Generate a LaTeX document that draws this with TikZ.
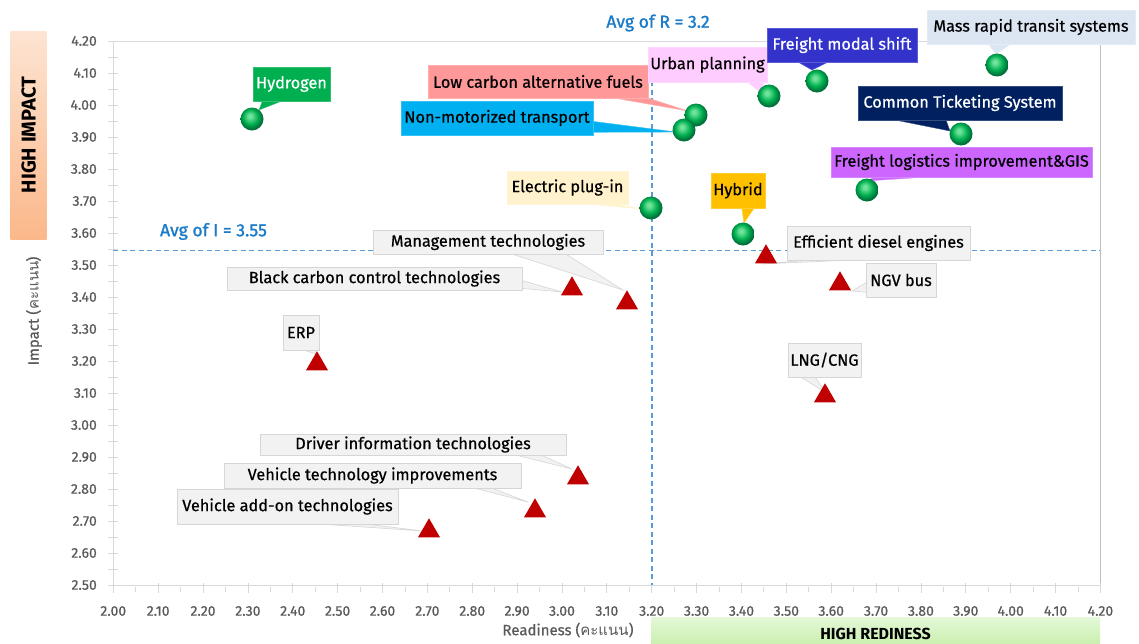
\documentclass[tikz,border=0pt]{standalone}
\usepackage{fontspec}
\setmainfont{Fira Sans}
\newfontfamily\lblfam{Fira Sans}[FakeBold=0.6]
\newfontfamily\avgfam{Fira Sans}[FakeBold=1.3]
\newfontfamily\thaifont[Script=Thai]{Loma}
\usetikzlibrary{shapes.geometric,calc}
\definecolor{gHi}{HTML}{6FE39A}
\definecolor{gMid}{HTML}{00B050}
\definecolor{gDark}{HTML}{00703A}
\definecolor{triRed}{HTML}{C00000}
\definecolor{boxGray}{HTML}{F2F2F2}
\definecolor{boxLine}{HTML}{D6D6D6}
\definecolor{tickTxt}{HTML}{595959}
\definecolor{axisC}{HTML}{D9D9D9}
\definecolor{frameR}{HTML}{BFBFBF}
\definecolor{avgBlue}{HTML}{1A7BC9}
\definecolor{dashBlue}{HTML}{5B9BD5}
\definecolor{hydG}{HTML}{00B050}
\definecolor{lcfP}{HTML}{FF9999}
\definecolor{nmtC}{HTML}{00B0F0}
\definecolor{urbP}{HTML}{FFCCFF}
\definecolor{fmsB}{HTML}{3333CC}
\definecolor{mrtL}{HTML}{DCE6F2}
\definecolor{ctsN}{HTML}{002060}
\definecolor{fliV}{HTML}{CC66FF}
\definecolor{epiC}{HTML}{FFF2CC}
\definecolor{hybO}{HTML}{FFC000}
\definecolor{impTop}{HTML}{FDE4D2}
\definecolor{impBot}{HTML}{FBB88A}
\definecolor{redTop}{HTML}{E4F8D8}
\definecolor{redBot}{HTML}{CBF0B2}
\pgfdeclareradialshading{gball}{\pgfpoint{-5bp}{7bp}}{color(0bp)=(gHi); color(4bp)=(gHi); color(16bp)=(gMid); color(25bp)=(gDark); color(50bp)=(gDark)}
\pgfdeclarelayer{bg}
\pgfdeclarelayer{tl}
\pgfsetlayers{bg,tl,main}
\newcommand{\lblfont}{\lblfam\fontsize{16.3}{18}\selectfont}
\newcommand{\labelbox}[7]{\node[#1, minimum width={(#5)-(#3)}, minimum height={(#6)-(#4)}] (#2) at ({((#3)+(#5))/2},{((#4)+(#6))/2}) {#7};}
\newcommand{\tailto}[5]{\filldraw[#1] ($(#2)+(#3)$) -- #5 -- ($(#2)+(#4)$) -- cycle;}
\tikzset{
  lbl/.style={font=\lblfont, text=black, inner sep=0pt, line width=0.6pt},
  gbox/.style={lbl, fill=boxGray, draw=boxLine},
  cbox/.style={lbl, fill=#1, draw=#1!80!white},
  wbox/.style={lbl, fill=#1, draw=#1!80!white, text=white},
  gtail/.style={fill=boxGray, draw=boxLine, line width=0.6pt},
  ctail/.style={fill=#1, draw=#1!80!white, line width=0.4pt},
  ballmark/.style={circle, minimum size=23pt, inner sep=0pt, shading=gball},
  trimark/.style={regular polygon, regular polygon sides=3, minimum size=25.5pt, inner sep=0pt, fill=triRed},
  ticklbl/.style={font=\lblfam\fontsize{14}{16}\selectfont, text=tickTxt, inner sep=0pt},
  axtitle/.style={font=\lblfam\fontsize{15}{17}\selectfont, text=tickTxt, inner sep=0pt},
  avglbl/.style={font=\avgfam\fontsize{17.5}{19}\selectfont, text=avgBlue, inner sep=0pt},
  hilbl/.style={font=\fontsize{16}{18}\selectfont\bfseries, text=black, inner sep=0pt},
  avgline/.style={dashBlue, line width=1.2pt, dash pattern=on 5pt off 3.5pt}
}
\begin{document}
\begin{tikzpicture}[x=1pt,y=-1pt]
\useasboundingbox (0,0) rectangle (1139,643);
\begin{pgfonlayer}{bg}
\fill[white] (0,0) rectangle (1139,643);
% quadrant banners
\node[minimum width=36pt, minimum height=208pt, inner sep=0pt, top color=impTop, bottom color=impBot] (hiImp) at (28.7,135) {};
\node[hilbl, font=\fontsize{20}{22}\selectfont\bfseries, rotate=90] (hiImpT) at (hiImp.center) {HIGH IMPACT};
\node[minimum width=449pt, minimum height=26pt, inner sep=0pt, top color=redTop, bottom color=redBot] (hiRed) at (875.5,630) {};
\node[hilbl] (hiRedT) at (875.5,634) {HIGH REDINESS};
% frame and axes
\draw[axisC, line width=0.6pt] (113.3,41) -- (1100.4,41);
\draw[frameR, line width=0.8pt] (1100.4,41) -- (1100.4,585);
\draw[axisC, line width=0.8pt] (113.3,41) -- (113.3,585) -- (1100.4,585);
\foreach \k in {0,...,34} \draw[axisC, line width=0.8pt] (108,{585-16*\k}) -- (118,{585-16*\k});
\foreach \k in {0,...,22} \draw[axisC, line width=0.8pt] ({113.3+44.87*\k},583) -- ({113.3+44.87*\k},593);
\foreach \k in {0,...,21} \draw[axisC, line width=0.8pt] ({135.7+44.87*\k},587) -- ({135.7+44.87*\k},592);
\foreach \lab [count=\i from 0] in {2.50,2.60,2.70,2.80,2.90,3.00,3.10,3.20,3.30,3.40,3.50,3.60,3.70,3.80,3.90,4.00,4.10,4.20}
  \node[ticklbl, anchor=east] at (97,{585-32*\i}) {\lab};
\foreach \lab [count=\i from 0] in {2.00,2.10,2.20,2.30,2.40,2.50,2.60,2.70,2.80,2.90,3.00,3.10,3.20,3.30,3.40,3.50,3.60,3.70,3.80,3.90,4.00,4.10,4.20}
  \node[ticklbl] at ({113.3+44.87*\i},611) {\lab};
\node[axtitle] (xt) at (568,630) {Readiness ({\thaifont คะแนน})};
\node[axtitle, rotate=90] (yt) at (34,311) {Impact ({\thaifont คะแนน})};
% averages
\draw[avgline] (652,47) -- (652,585);
\draw[avgline] (113.3,250.5) -- (1100.4,250.5);
\node[avglbl] (avgR) at (658,23) {Avg of R = 3.2};
\node[avglbl] (avgI) at (213.5,231.5) {Avg of I = 3.55};
\end{pgfonlayer}
% data points
\coordinate (hyd) at (252,119);
\coordinate (lcf) at (696,115);
\coordinate (nmt) at (684,130);
\coordinate (urb) at (769,96);
\coordinate (fms) at (817,81);
\coordinate (mrt) at (997,65);
\coordinate (cts) at (961,134);
\coordinate (fli) at (867,190);
\coordinate (epi) at (651,208);
\coordinate (hyb) at (743,234);
\coordinate (ede) at (766,257);
\coordinate (ngv) at (840,284);
\coordinate (lng) at (825,396);
\coordinate (mgt) at (627,303);
\coordinate (bcc) at (572,289);
\coordinate (erp) at (317,364);
\coordinate (dit) at (578,478);
\coordinate (vti) at (535,511);
\coordinate (vao) at (429,531);
% label boxes
\labelbox{wbox=hydG}{hydB}{253}{67}{330}{101}{Hydrogen}
\labelbox{cbox=lcfP}{lcfB}{428}{65}{648}{98}{Low carbon alternative fuels}
\labelbox{cbox=nmtC}{nmtB}{401}{101}{593}{135}{Non-motorized transport}
\labelbox{cbox=urbP}{urbB}{648}{47}{767}{82}{Urban planning}
\labelbox{wbox=fmsB}{fmsBx}{767}{28}{917}{62}{Freight modal shift}
\labelbox{cbox=mrtL}{mrtB}{927}{10}{1135}{44}{Mass rapid transit systems}
\labelbox{wbox=ctsN}{ctsB}{858}{86}{1062}{120}{Common Ticketing System}
\labelbox{cbox=fliV}{fliB}{831}{147}{1092}{177}{Freight logistics improvement\&GIS}
\labelbox{cbox=epiC}{epiB}{507}{171}{628}{204}{Electric plug-in}
\labelbox{cbox=hybO}{hybB}{711}{173}{765}{208}{Hybrid}
\labelbox{gbox}{edeB}{787}{226}{970}{260}{Efficient diesel engines}
\labelbox{gbox}{ngvB}{866}{263}{936}{297}{NGV bus}
\labelbox{gbox}{lngB}{788}{343}{861}{377}{LNG/CNG}
\labelbox{gbox}{mgtB}{373}{230}{603}{254}{Management technologies}
\labelbox{gbox}{bccB}{227}{267}{522}{290}{Black carbon control technologies}
\labelbox{gbox}{erpB}{283}{315}{319}{350}{ERP}
\labelbox{gbox}{ditB}{260}{434}{566}{455}{Driver information technologies}
\labelbox{gbox}{vtiB}{224}{463}{521}{488}{Vehicle technology improvements}
\labelbox{gbox}{vaoB}{177}{489}{398}{524}{Vehicle add-on technologies}
% callout tails
\begin{pgfonlayer}{tl}
\tailto{ctail=hydG}{hydB.south west}{10,-1}{31,-1}{($(hyd)+(7,-9)$)}
\tailto{ctail=lcfP}{lcfB.south west}{182,-1}{218,-1}{($(lcf)+(-8,-4)$)}
\tailto{ctail=nmtC}{nmtB.south east}{-1,-14}{-1,-3}{($(nmt)+(-8,2)$)}
\tailto{ctail=urbP}{urbB.south west}{99,-1}{117,-1}{($(urb)+(-9,-4)$)}
\tailto{ctail=fmsB}{fmsBx.south west}{30,-1}{63,-1}{($(fms)+(-5,-11)$)}
\tailto{ctail=mrtL}{mrtB.south west}{61,-1}{85,-1}{($(mrt)+(-1,-11)$)}
\tailto{ctail=ctsN}{ctsB.south west}{34,-1}{88,-1}{($(cts)+(-11,-3)$)}
\tailto{ctail=fliV}{fliB.south west}{46,-1}{107,-1}{($(fli)+(-1,-9)$)}
\tailto{ctail=epiC}{epiB.south west}{70,-1}{104,-1}{($(epi)+(-8,1)$)}
\tailto{ctail=hybO}{hybB.south west}{31,-1}{44,-1}{($(hyb)+(1,-11)$)}
\tailto{gtail}{edeB.south west}{30,-1}{80,-1}{($(ede)+(-4,7)$)}
\tailto{gtail}{ngvB.south west}{1,-15}{1,-5}{($(ngv)+(12,7)$)}
\tailto{gtail}{lngB.south west}{12,-1}{27,-1}{($(lng)+(0,-4)$)}
\tailto{gtail}{mgtB.south west}{137,-1}{192,-1}{($(mgt)+(-4,-13)$)}
\tailto{gtail}{bccB.south east}{-1,-10}{-1,-2}{($(bcc)+(-10,3)$)}
\tailto{gtail}{erpB.south west}{19,-1}{33,-1}{($(erp)+(-1,-10)$)}
\tailto{gtail}{ditB.south west}{253,-1}{280,-1}{($(dit)+(-6,-9)$)}
\tailto{gtail}{vtiB.south west}{248,-1}{266,-1}{($(vti)+(-7,-9)$)}
\tailto{gtail}{vaoB.south west}{133,-1}{183,-1}{($(vao)+(-6,0)$)}
\end{pgfonlayer}
% markers
\foreach \p in {hyd,lcf,nmt,urb,fms,mrt,cts,fli,epi,hyb} \node[ballmark] (\p M) at (\p) {};
\foreach \p in {ede,ngv,lng,mgt,bcc,erp,dit,vti,vao} \node[trimark] (\p M) at (\p) {};
\end{tikzpicture}
\end{document}
